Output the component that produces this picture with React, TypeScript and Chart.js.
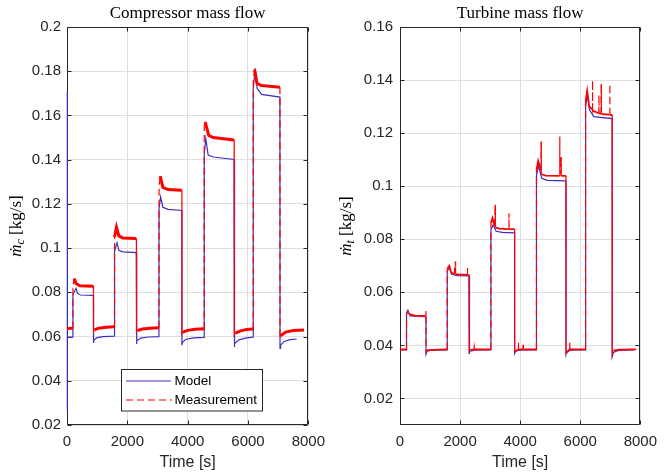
import React, { useEffect, useRef } from "react";
import { Chart, registerables } from "chart.js";
Chart.register(...registerables);

// ---------- data ----------
const xTicks = [0, 2000, 4000, 6000, 8000];
const compYTicks = [0.02, 0.04, 0.06, 0.08, 0.1, 0.12, 0.14, 0.16, 0.18, 0.2];
const turbYTicks = [0.02, 0.04, 0.06, 0.08, 0.1, 0.12, 0.14, 0.16];

// [time s, mass flow kg/s]
const compModel: number[][] = [
  [0, 0.027], [4, 0.171], [18, 0.0597], [193, 0.0597],
  [196, 0.079], [300, 0.0818], [350, 0.0795], [450, 0.0788], [877, 0.0786],
  [880, 0.0571], [900, 0.0585], [1000, 0.0595], [1200, 0.06], [1572, 0.0602],
  [1576, 0.0985], [1658, 0.1024], [1720, 0.099], [1850, 0.0983], [2299, 0.098],
  [2302, 0.0566], [2320, 0.058], [2450, 0.0593], [2700, 0.0598], [3048, 0.06],
  [3052, 0.118], [3103, 0.1232], [3180, 0.1185], [3350, 0.1175], [3807, 0.117],
  [3810, 0.0561], [3830, 0.0575], [3950, 0.0588], [4200, 0.0594], [4545, 0.0596],
  [4549, 0.142], [4600, 0.1496], [4680, 0.1421], [4850, 0.1412], [5540, 0.1401],
  [5543, 0.0553], [5565, 0.0568], [5700, 0.0585], [5950, 0.0594], [6171, 0.0597],
  [6175, 0.172], [6238, 0.1813], [6300, 0.1723], [6450, 0.1695], [7059, 0.1683],
  [7062, 0.0546], [7080, 0.0562], [7200, 0.0578], [7400, 0.0586], [7615, 0.0589],
];

const compMeas: number[][] = [
  [0, 0.0635], [100, 0.0637], [193, 0.0638],
  [197, 0.0828], [240, 0.0862], [300, 0.084], [420, 0.083], [877, 0.0828],
  [880, 0.0621], [910, 0.063], [1050, 0.0638], [1300, 0.0642], [1572, 0.0644],
  [1576, 0.105], [1640, 0.1094], [1720, 0.1055], [1850, 0.1046], [2299, 0.1044],
  [2302, 0.0618], [2330, 0.0627], [2500, 0.0634], [2750, 0.0638], [3048, 0.064],
  [3052, 0.128], [3090, 0.1326], [3180, 0.1275], [3350, 0.1265], [3807, 0.1262],
  [3810, 0.0611], [3840, 0.062], [4000, 0.0628], [4250, 0.0633], [4545, 0.0635],
  [4549, 0.155], [4580, 0.1571], [4700, 0.151], [4850, 0.15], [5540, 0.1489],
  [5543, 0.0606], [5575, 0.0615], [5750, 0.0626], [5950, 0.0632], [6171, 0.0634],
  [6175, 0.176], [6220, 0.1808], [6300, 0.1745], [6450, 0.1735], [7059, 0.1727],
  [7062, 0.0591], [7090, 0.0605], [7250, 0.062], [7500, 0.0627], [7861, 0.063],
];

const turbModel: number[][] = [
  [0, 0.0383], [214, 0.0383],
  [217, 0.0515], [270, 0.0531], [330, 0.0512], [500, 0.0509], [865, 0.0508],
  [868, 0.0367], [900, 0.0378], [1050, 0.0382], [1570, 0.0383],
  [1573, 0.068], [1650, 0.0695], [1720, 0.0668], [1900, 0.0663], [2297, 0.0662],
  [2300, 0.0368], [2330, 0.0378], [2500, 0.0382], [3023, 0.0383],
  [3026, 0.0835], [3100, 0.0855], [3200, 0.083], [3400, 0.0826], [3814, 0.0824],
  [3817, 0.037], [3850, 0.0379], [4000, 0.0382], [4540, 0.0383],
  [4543, 0.104], [4610, 0.1077], [4720, 0.103], [4900, 0.1022], [5523, 0.102],
  [5526, 0.0365], [5560, 0.0377], [5700, 0.0382], [6175, 0.0383],
  [6178, 0.13], [6240, 0.1347], [6300, 0.129], [6450, 0.1262], [7062, 0.1255],
  [7065, 0.0358], [7100, 0.0373], [7250, 0.038], [7500, 0.0382], [7800, 0.0383],
];

const turbMeas: number[][] = [
  [0, 0.0385], [214, 0.0385],
  [217, 0.052], [260, 0.0536], [300, 0.0518], [500, 0.0512], [850, 0.0511], [860, 0.053], [865, 0.0511],
  [868, 0.0375], [900, 0.0382], [1570, 0.0385],
  [1573, 0.069], [1640, 0.07], [1700, 0.0675], [1800, 0.0668], [1840, 0.0716], [1850, 0.0668],
  [2240, 0.0666], [2245, 0.0695], [2250, 0.0666], [2297, 0.0666],
  [2300, 0.0375], [2340, 0.0383], [2460, 0.0384], [2470, 0.0395], [2480, 0.0385], [3023, 0.0385],
  [3026, 0.086], [3080, 0.088], [3150, 0.085], [3164, 0.093], [3175, 0.0845], [3300, 0.084],
  [3620, 0.0838], [3626, 0.0898], [3632, 0.0838], [3814, 0.0838],
  [3817, 0.0375], [3930, 0.0385], [3940, 0.0411], [3950, 0.0385], [4090, 0.0385], [4100, 0.0402], [4110, 0.0385], [4540, 0.0385],
  [4543, 0.106], [4600, 0.1095], [4690, 0.106], [4695, 0.1168], [4705, 0.1045], [4850, 0.104],
  [5300, 0.1039], [5315, 0.1187], [5325, 0.1039], [5360, 0.111], [5370, 0.1039], [5523, 0.1039],
  [5526, 0.037], [5640, 0.0385], [5650, 0.041], [5660, 0.0385], [6175, 0.0385],
  [6178, 0.132], [6230, 0.136], [6300, 0.13], [6400, 0.129], [6406, 0.14], [6415, 0.1285],
  [6615, 0.1275], [6620, 0.1344], [6630, 0.1275], [6690, 0.1272], [6694, 0.1385], [6705, 0.1272],
  [6975, 0.127], [6983, 0.1385], [6990, 0.1269], [7062, 0.1269],
  [7065, 0.0365], [7100, 0.038], [7300, 0.0384], [7863, 0.0385],
];

// ---------- styling ----------
const BLUE = "#3a30c0";
const RED = "#ff0000";
const AXIS = "#262626";
const GRID = "#dfdfdf";
const SANS = '"Liberation Sans", Arial, Helvetica, sans-serif';
const SERIF = '"Liberation Serif", "DejaVu Serif", "Times New Roman", serif';

type PanelCfg = {
  title: string;
  sub: string;
  yMin: number;
  yMax: number;
  yTicks: number[];
  model: number[][];
  meas: number[][];
  legend: boolean;
  padRight: number;
  yLabelX: number;
  yTickPad: number;
  measWidth: number;
};

const toXY = (arr: number[][]) => arr.map((p) => ({ x: p[0], y: p[1] }));

function makePlugin(cfg: PanelCfg) {
  return {
    id: "matlabDecor",
    beforeDatasetsDraw(chart: any) {
      const c = chart.ctx as CanvasRenderingContext2D;
      const a = chart.chartArea;
      const xs = chart.scales.x;
      const ys = chart.scales.y;
      c.save();
      c.strokeStyle = AXIS;
      c.lineWidth = 1;
      const L = Math.round(a.left) + 0.5;
      const R = Math.round(a.right) - 0.5;
      const T = Math.round(a.top) + 0.5;
      const B = Math.round(a.bottom) - 0.5;
      c.beginPath();
      c.rect(L, T, R - L, B - T);
      c.stroke();
      const tl = 4;
      c.beginPath();
      xTicks.forEach((v) => {
        const px = Math.round(xs.getPixelForValue(v)) + 0.5;
        c.moveTo(px, B);
        c.lineTo(px, B - tl);
        c.moveTo(px, T);
        c.lineTo(px, T + tl);
      });
      cfg.yTicks.forEach((v) => {
        const py = Math.round(ys.getPixelForValue(v)) + 0.5;
        c.moveTo(L, py);
        c.lineTo(L + tl, py);
        c.moveTo(R, py);
        c.lineTo(R - tl, py);
      });
      c.stroke();
      c.restore();
    },
    afterDraw(chart: any) {
      const c = chart.ctx as CanvasRenderingContext2D;
      const a = chart.chartArea;
      c.save();
      const cx = (a.left + a.right) / 2;
      c.fillStyle = "#000";
      c.font = `17px ${SERIF}`;
      c.textAlign = "center";
      c.textBaseline = "middle";
      c.fillText(cfg.title, cx, 14);

      c.fillStyle = AXIS;
      c.font = `16px ${SANS}`;
      c.fillText("Time [s]", cx, 463);

      c.save();
      c.translate(cfg.yLabelX, (a.top + a.bottom) / 2);
      c.rotate(-Math.PI / 2);
      c.fillStyle = "#000";
      c.textAlign = "left";
      c.textBaseline = "alphabetic";
      const mFont = `italic 17px ${SERIF}`;
      const sFont = `italic 12px ${SERIF}`;
      const rFont = `17px ${SERIF}`;
      c.font = mFont;
      const w1 = c.measureText("ṁ").width;
      c.font = sFont;
      const w2 = c.measureText(cfg.sub).width;
      c.font = rFont;
      const unit = " [kg/s]";
      const w3 = c.measureText(unit).width;
      let x0 = -(w1 + w2 + w3) / 2;
      c.font = mFont;
      c.fillText("ṁ", x0, 0);
      x0 += w1;
      c.font = sFont;
      c.fillText(cfg.sub, x0, 3);
      x0 += w2;
      c.font = rFont;
      c.fillText(unit, x0, 0);
      c.restore();

      if (cfg.legend) {
        const bx = 121.5, by = 369.5, bw = 141, bh = 41.5;
        c.fillStyle = "#fff";
        c.fillRect(bx, by, bw, bh);
        c.strokeStyle = AXIS;
        c.lineWidth = 1;
        c.strokeRect(bx, by, bw, bh);
        c.lineWidth = 1.2;
        c.strokeStyle = BLUE;
        c.beginPath();
        c.moveTo(126, 381);
        c.lineTo(171, 381);
        c.stroke();
        c.strokeStyle = RED;
        c.setLineDash([7, 4]);
        c.beginPath();
        c.moveTo(126, 400);
        c.lineTo(172, 400);
        c.stroke();
        c.setLineDash([]);
        c.fillStyle = "#000";
        c.font = `13.5px ${SANS}`;
        c.textAlign = "left";
        c.textBaseline = "middle";
        c.fillText("Model", 174.5, 381);
        c.fillText("Measurement", 174.5, 400);
      }
      c.restore();
    },
  };
}

function Panel({ left, width, cfg }: { left: number; width: number; cfg: PanelCfg }) {
  const ref = useRef<HTMLCanvasElement>(null);
  useEffect(() => {
    const isVert = (ctx: any) => Math.abs(ctx.p1.x - ctx.p0.x) < 1.5;
    const chart = new Chart(ref.current as HTMLCanvasElement, {
      type: "line",
      data: {
        datasets: [
          {
            label: "Measurement",
            data: toXY(cfg.meas),
            borderColor: RED,
            borderWidth: cfg.measWidth,
            pointRadius: 0,
            tension: 0,
            fill: false,
            clip: 3,
            segment: {
              borderDash: (ctx: any) => (isVert(ctx) ? [7, 4] : []),
              borderWidth: (ctx: any) => (isVert(ctx) ? 1.2 : cfg.measWidth),
            },
          } as any,
          {
            label: "Model",
            data: toXY(cfg.model),
            borderColor: BLUE,
            borderWidth: 1.2,
            pointRadius: 0,
            tension: 0,
            fill: false,
            clip: 3,
          } as any,
        ],
      },
      options: {
        animation: false,
        responsive: false,
        devicePixelRatio: 1,
        layout: { padding: { top: 27, right: cfg.padRight, left: 0, bottom: 0 } },
        plugins: { legend: { display: false }, title: { display: false }, tooltip: { enabled: false } },
        events: [],
        scales: {
          x: {
            type: "linear",
            min: 0,
            max: 8000,
            afterFit: (s: any) => {
              s.height = 49;
            },
            afterBuildTicks: (s: any) => {
              s.ticks = xTicks.map((v) => ({ value: v }));
            },
            grid: { color: GRID, drawTicks: false, lineWidth: 1 },
            border: { display: false },
            ticks: {
              padding: 8,
              color: AXIS,
              font: { family: SANS, size: 15 },
              maxRotation: 0,
              autoSkip: false,
              callback: (v: any) => String(v),
            },
          },
          y: {
            type: "linear",
            min: cfg.yMin,
            max: cfg.yMax,
            afterFit: (s: any) => {
              s.width = 67;
            },
            afterBuildTicks: (s: any) => {
              s.ticks = cfg.yTicks.map((v) => ({ value: v }));
            },
            grid: { color: GRID, drawTicks: false, lineWidth: 1 },
            border: { display: false },
            ticks: {
              padding: cfg.yTickPad,
              color: AXIS,
              font: { family: SANS, size: 15 },
              autoSkip: false,
              callback: (v: any) => String(Number(Number(v).toFixed(2))),
            },
          },
        },
      } as any,
      plugins: [makePlugin(cfg)],
    });
    return () => chart.destroy();
  }, []);
  return (
    <canvas
      ref={ref}
      width={width}
      height={474}
      style={{ position: "absolute", left, top: 0, width, height: 474 }}
    />
  );
}

const compCfg: PanelCfg = {
  title: "Compressor mass flow",
  sub: "c",
  yMin: 0.02,
  yMax: 0.2,
  yTicks: compYTicks,
  model: compModel,
  meas: compMeas,
  legend: true,
  padRight: 17,
  yLabelX: 20.5,
  yTickPad: 6,
  measWidth: 3,
};

const turbCfg: PanelCfg = {
  title: "Turbine mass flow",
  sub: "t",
  yMin: 0.01,
  yMax: 0.16,
  yTicks: turbYTicks,
  model: turbModel,
  meas: turbMeas,
  legend: false,
  padRight: 16,
  yLabelX: 17.5,
  yTickPad: 7,
  measWidth: 1.8,
};

export default function App() {
  return (
    <div style={{ position: "absolute", left: 0, top: 0, width: 665, height: 474, background: "#fff", overflow: "hidden" }}>
      <Panel left={0} width={333} cfg={compCfg} />
      <Panel left={333} width={332} cfg={turbCfg} />
    </div>
  );
}
